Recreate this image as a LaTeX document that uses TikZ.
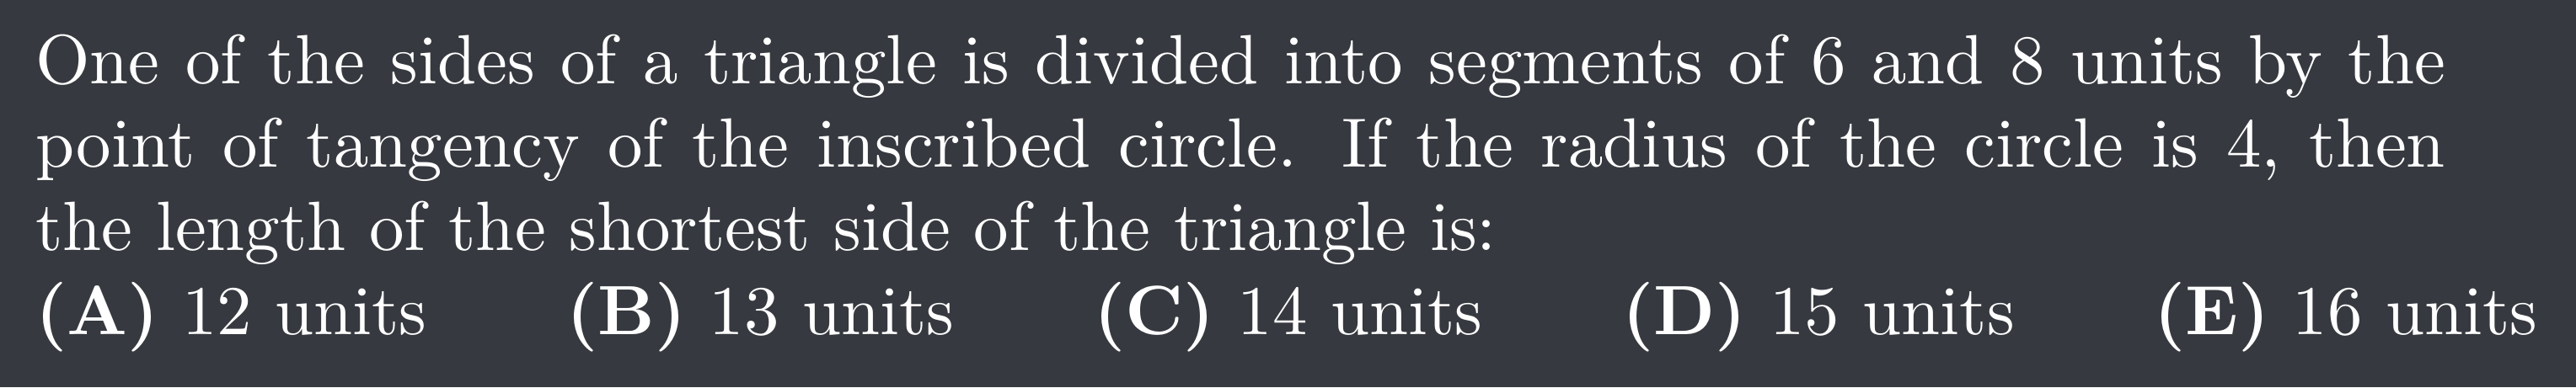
\documentclass[tikz,border=0pt]{standalone}
\definecolor{bgc}{HTML}{36393F}
\tikzset{txt/.style={anchor=base west, inner sep=0pt, outer sep=0pt, text=white, font=\fontsize{10}{12}\selectfont}}
\begin{document}
\begin{tikzpicture}[x=1pt,y=1pt]
\fill[bgc] (0,0) rectangle (368.8,-55.5);
\useasboundingbox (0,0) rectangle (368.8,-55.5);
\node[txt] (l1) at (5.1,-11.95) {\makebox[345pt][s]{One of the sides of a triangle is divided into segments of $6$ and $8$ units by the}};
\node[txt] (l2) at (5.1,-23.95) {\makebox[345pt][s]{point of tangency of the inscribed circle. If the radius of the circle is $4$, then}};
\node[txt] (l3) at (5.1,-35.95) {the length of the shortest side of the triangle is:};
\node[txt] (opts) at (5.1,-47.95) {\textbf{(A)} 12 units\qquad\textbf{(B)} 13 units\qquad\textbf{(C)} 14 units\qquad\textbf{(D)} 15 units\qquad\textbf{(E)} 16 units};
\end{tikzpicture}
\end{document}
